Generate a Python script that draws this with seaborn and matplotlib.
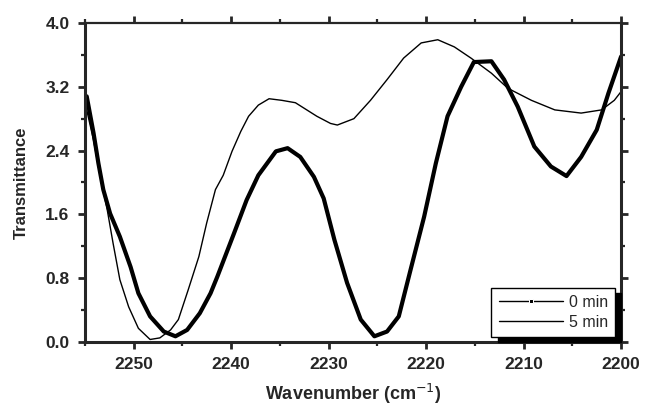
import numpy as np
import pandas as pd
import matplotlib
matplotlib.use('Agg')
import matplotlib.pyplot as plt
import seaborn as sns
from matplotlib.ticker import MultipleLocator, FormatStrFormatter

# spectrum at 0 min (thick dotted trace)
wn_0 = [2254.8, 2254.1, 2253.6, 2253.1, 2252.4, 2251.4, 2250.3, 2249.5, 2248.3,
        2246.9, 2245.7, 2244.5, 2243.2, 2242.1, 2241.4, 2239.7, 2238.4, 2237.2,
        2235.4, 2234.2, 2232.9, 2231.5, 2230.5, 2229.4, 2228.1, 2226.7, 2225.3,
        2224.0, 2222.8, 2221.6, 2220.2, 2219.0, 2217.8, 2216.4, 2215.1, 2213.3,
        2212.0, 2210.6, 2208.9, 2207.2, 2205.6, 2204.1, 2202.5, 2201.3, 2200.0]
tr_0 = [3.08, 2.62, 2.24, 1.91, 1.61, 1.32, 0.94, 0.61, 0.32,
        0.13, 0.07, 0.15, 0.36, 0.61, 0.82, 1.36, 1.78, 2.09,
        2.39, 2.43, 2.32, 2.07, 1.80, 1.28, 0.74, 0.28, 0.07,
        0.13, 0.32, 0.90, 1.57, 2.24, 2.83, 3.20, 3.51, 3.52,
        3.29, 2.95, 2.45, 2.20, 2.08, 2.32, 2.66, 3.12, 3.58]

# spectrum at 5 min (thin trace)
wn_5 = [2254.8, 2254.1, 2253.4, 2252.7, 2252.1, 2251.4, 2250.5, 2249.5, 2248.3,
        2247.3, 2246.2, 2245.4, 2244.4, 2243.3, 2242.5, 2241.6, 2240.8, 2239.9,
        2239.0, 2238.2, 2237.2, 2236.1, 2234.8, 2233.4, 2231.2, 2229.8, 2229.1,
        2227.4, 2225.7, 2224.0, 2222.3, 2220.5, 2218.8, 2217.1, 2215.4, 2213.3,
        2211.6, 2209.2, 2206.8, 2204.1, 2202.0, 2200.7, 2200.0]
tr_5 = [2.91, 2.53, 2.07, 1.66, 1.24, 0.78, 0.44, 0.17, 0.03,
        0.05, 0.15, 0.28, 0.65, 1.07, 1.49, 1.91, 2.09, 2.39,
        2.64, 2.83, 2.97, 3.05, 3.03, 3.00, 2.83, 2.74, 2.72,
        2.80, 3.03, 3.29, 3.56, 3.75, 3.79, 3.70, 3.56, 3.37,
        3.18, 3.03, 2.91, 2.87, 2.91, 3.03, 3.14]

labels = ['0 min', '5 min']

df0 = pd.DataFrame({'wn': wn_0, 'T': tr_0})
df5 = pd.DataFrame({'wn': wn_5, 'T': tr_5})

sns.set_style('ticks')
plt.rcParams['font.family'] = ['Liberation Sans', 'DejaVu Sans']

fig = plt.figure(figsize=(6.47, 4.07), dpi=100)
ax = fig.add_axes([0.131, 0.160, 0.829, 0.7835])

sns.lineplot(data=df0, x='wn', y='T', ax=ax, color='black', lw=3.0,
             solid_joinstyle='round', solid_capstyle='round', label=labels[0])
sns.lineplot(data=df5, x='wn', y='T', ax=ax, color='black', lw=1.0,
             solid_joinstyle='round', label=labels[1])

ax.set_xlim(2255, 2200)
ax.set_ylim(0, 4.0)
ax.xaxis.set_major_locator(MultipleLocator(10))
ax.xaxis.set_minor_locator(MultipleLocator(5))
ax.yaxis.set_major_locator(MultipleLocator(0.8))
ax.yaxis.set_minor_locator(MultipleLocator(0.4))
ax.yaxis.set_major_formatter(FormatStrFormatter('%.1f'))

for s in ax.spines.values():
    s.set_linewidth(1.6)
    s.set_visible(True)
ax.spines['left'].set_linewidth(2.2)
ax.spines['bottom'].set_linewidth(2.2)
ax.spines['right'].set_linewidth(2.2)

ax.tick_params(which='major', direction='out', length=5, width=2,
               labelsize=12.5, pad=6)
ax.tick_params(which='minor', direction='out', length=3, width=1.6)
ax.tick_params(which='both', top=True, right=True)
for lab in ax.get_xticklabels() + ax.get_yticklabels():
    lab.set_fontweight('bold')

ax.set_xlabel('Wavenumber (cm$^{-1}$)', fontsize=13, fontweight='bold',
              labelpad=7)
ax.set_ylabel('Transmittance', fontsize=12, fontweight='bold', labelpad=12)

leg = ax.legend(loc='lower right', bbox_to_anchor=(0.989, 0.016),
                frameon=True, fancybox=False, numpoints=1, handlelength=4.0,
                fontsize=11.5, borderpad=0.45, labelspacing=0.3,
                handletextpad=0.4, borderaxespad=0,
                shadow={'ox': 4.5, 'oy': -4, 'color': 'black', 'alpha': 1})
leg.get_frame().set_edgecolor('black')
leg.get_frame().set_linewidth(1.0)
leg_lines = leg.get_lines()
leg_lines[0].set_linewidth(1.0)
leg_lines[0].set_marker('s')
leg_lines[0].set_markersize(3)
leg_lines[1].set_linewidth(1.0)

fig.savefig('out.png', dpi=100)
